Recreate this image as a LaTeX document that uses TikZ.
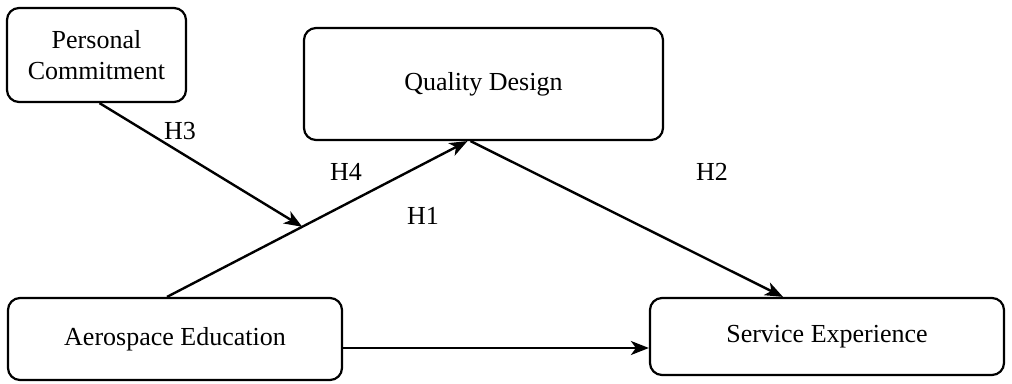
\documentclass[tikz,border=0pt]{standalone}
\usepackage{fontspec}
\setmainfont{Liberation Serif}
\usetikzlibrary{arrows.meta,positioning}

\begin{document}
\begin{tikzpicture}[
  x=0.5pt, y=-0.5pt,
  box/.style={draw, line width=1.1pt, rounded corners=6pt, align=center, inner sep=0pt, font=\fontsize{13}{15.5}\selectfont},
  arr/.style={draw, line width=1.2pt, -{Stealth[length=9pt,width=7pt,inset=2.5pt]}},
  hyp/.style={font=\fontsize{13}{15.5}\selectfont}
]
\useasboundingbox (0,0) rectangle (1012,384);
\node[box, minimum width=89.5pt, minimum height=47pt] (commit) at (96.5,55) {Personal\\Commitment};
\node[box, minimum width=179.5pt, minimum height=56pt] (quality) at (483.5,84) {\raisebox{-1.5pt}{Quality Design}};
\node[box, minimum width=167pt, minimum height=41pt] (edu) at (175,339) {Aerospace Education};
\node[box, minimum width=177pt, minimum height=38.5pt] (service) at (827,336.5) {Service Experience};
\draw[arr] ([xshift=-4pt]edu.north) -- coordinate[pos=0.45] (meet) ([xshift=-8pt]quality.south);
\draw[arr] ([xshift=1.5pt]commit.south) -- (meet);
\draw[arr] ([xshift=-6.5pt]quality.south) -- ([xshift=-22pt]service.north);
\draw[arr] ([yshift=-4.5pt]edu.east) -- ([yshift=-4.5pt]edu.east -| service.west);
\node[hyp] (h3) at (180,131) {H3};
\node[hyp] (h4) at (346,172) {H4};
\node[hyp] (h1) at (423,216) {H1};
\node[hyp] (h2) at (712,172) {H2};
\end{tikzpicture}
\end{document}
